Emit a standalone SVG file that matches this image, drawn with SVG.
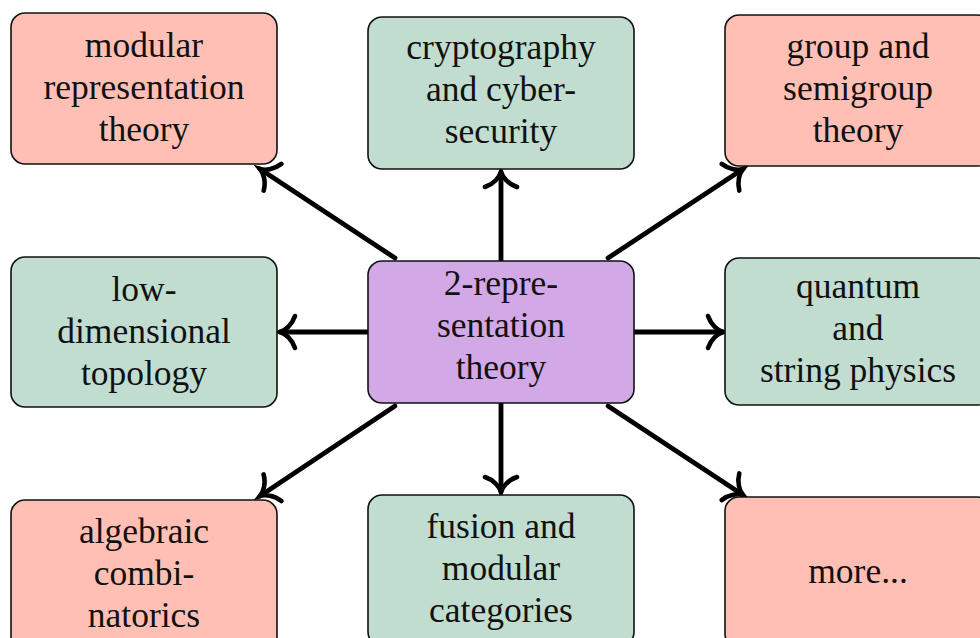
<svg xmlns="http://www.w3.org/2000/svg" width="980" height="638" viewBox="0 0 980 638">
<style>
.box{stroke:#111;stroke-width:1.6}
.pink{fill:#FFBFB5}
.green{fill:#C0DDCF}
.purple{fill:#D2A8E6}
text{font-family:"Liberation Serif","DejaVu Serif",serif;font-size:35.5px;fill:#111;text-anchor:middle}
.conn line{stroke:#000;stroke-width:4.8;stroke-linecap:round;marker-end:url(#to)}
</style>
<defs>
<marker id="to" markerUnits="userSpaceOnUse" viewBox="-20 -20 40 40" markerWidth="40" markerHeight="40" refX="0" refY="0" orient="auto" overflow="visible">
<path d="M-15,-16 C-12,-7 -5,-1.5 0,0 C-5,1.5 -12,7 -15,16" fill="none" stroke="#000" stroke-width="4.6" stroke-linecap="round"/>
</marker>
</defs>
<rect width="980" height="638" fill="#fff"/>
<g id="connectors" class="conn">
<line x1="501" y1="261" x2="501" y2="172"/>
<line x1="501" y1="403" x2="501" y2="492"/>
<line x1="368" y1="332" x2="280" y2="332"/>
<line x1="634" y1="332" x2="723" y2="332"/>
<line x1="395" y1="258" x2="260" y2="169"/>
<line x1="608" y1="258" x2="743" y2="169"/>
<line x1="395" y1="406" x2="260" y2="496"/>
<line x1="608" y1="406" x2="743" y2="495"/>
</g>
<g id="modular-representation-theory">
<rect class="box pink" x="11" y="13" width="266" height="151" rx="14"/>
<text x="144" y="57">modular</text>
<text x="144" y="99">representation</text>
<text x="144" y="141">theory</text>
</g>
<g id="cryptography">
<rect class="box green" x="368" y="17" width="266" height="152" rx="14"/>
<text x="501" y="59">cryptography</text>
<text x="501" y="101">and cyber-</text>
<text x="501" y="143">security</text>
</g>
<g id="group-semigroup">
<rect class="box pink" x="725" y="15" width="266" height="151" rx="14"/>
<text x="858" y="58">group and</text>
<text x="858" y="100">semigroup</text>
<text x="858" y="142">theory</text>
</g>
<g id="low-dimensional-topology">
<rect class="box green" x="11" y="257" width="266" height="150" rx="14"/>
<text x="144" y="301">low-</text>
<text x="144" y="343">dimensional</text>
<text x="144" y="385">topology</text>
</g>
<g id="two-representation-theory">
<rect class="box purple" x="368" y="261" width="266" height="142" rx="14"/>
<text x="501" y="295">2-repre-</text>
<text x="501" y="337">sentation</text>
<text x="501" y="379">theory</text>
</g>
<g id="quantum-string-physics">
<rect class="box green" x="725" y="258" width="266" height="147" rx="14"/>
<text x="858" y="298">quantum</text>
<text x="858" y="340">and</text>
<text x="858" y="382">string physics</text>
</g>
<g id="algebraic-combinatorics">
<rect class="box pink" x="11" y="500" width="266" height="151" rx="14"/>
<text x="144" y="543">algebraic</text>
<text x="144" y="585">combi-</text>
<text x="144" y="627">natorics</text>
</g>
<g id="fusion-modular-categories">
<rect class="box green" x="368" y="495" width="266" height="151" rx="14"/>
<text x="501" y="538">fusion and</text>
<text x="501" y="580">modular</text>
<text x="501" y="622">categories</text>
</g>
<g id="more">
<rect class="box pink" x="725" y="497" width="266" height="151" rx="14"/>
<text x="858" y="583">more...</text>
</g>
</svg>
